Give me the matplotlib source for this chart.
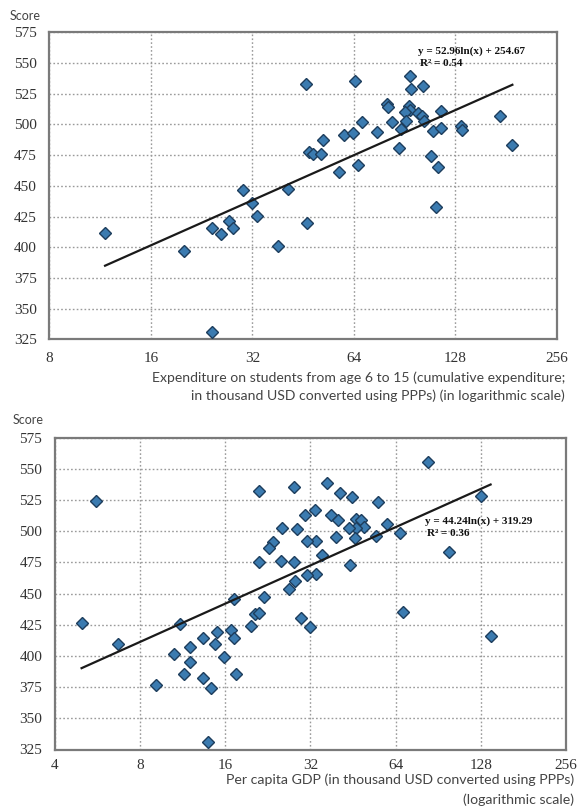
import matplotlib
matplotlib.use("Agg")
import matplotlib.pyplot as plt
import numpy as np
from matplotlib.ticker import FixedLocator, FixedFormatter, NullLocator

# ---------------- data ----------------
exp_x = [46.2, 64.5, 94, 94.5, 102.5, 80, 80.7, 93, 94, 91, 99, 102, 115.8, 103.5,
         67.7, 83, 91.6, 88.5, 110, 116, 133, 134, 174, 189, 87, 108.5, 114, 75,
         60, 63.6, 58, 65.7, 51.8, 47.2, 48.5, 51, 30.1, 40.7, 31.9, 33, 27.2, 28,
         24.3, 25.8, 38.2, 46.4, 112.4, 11.7, 20.1, 24.3]
exp_y = [533, 535.5, 539.6, 528.7, 531.4, 516.8, 514, 515, 512, 510, 509, 506.6, 510.6, 503,
         501.7, 501.7, 503, 496, 495, 497, 499, 495.7, 506.5, 483, 481, 474, 465, 493.8,
         491, 493, 461, 467, 487.6, 477.3, 476, 476, 446.5, 447.6, 435.7, 425.4, 421.6, 416,
         416, 411, 401, 419.4, 432.4, 411.3, 396.7, 331.2]

gdp_x = [5.61, 83, 127.8, 98.9, 66.2, 59.7, 55.3, 54.5, 44.8, 40.6, 36.5, 28.1, 21, 33.3,
         30.5, 37.8, 40.2, 46.2, 48.2, 49.3, 46.2, 43.7, 45.9, 44, 39.4, 33.5, 31, 28.7,
         25.4, 23.5, 22.9, 21, 25.1, 27.9, 35.2, 33.5, 31.2, 28.2, 26.9, 17.2, 22,
         4.97, 6.68, 11.07, 9.1, 10.5, 11.4, 12.0, 12.0, 13.4, 14.66, 14.9, 13.4, 14.2,
         13.9, 15.9, 16.7, 17.2, 17.4, 19.8, 20.4, 21, 29.7, 32, 67.8, 138.6]
gdp_y = [524.4, 555.5, 528.4, 483, 498.7, 505.7, 523.6, 496.3, 527.6, 530.8, 538.9, 535.1, 532.4, 516.9,
         512.9, 513.4, 509.4, 510.2, 508.9, 503, 502.2, 502.2, 494.2, 473.3, 495.5, 492.3, 492.3, 501.4,
         502.2, 491.5, 486.7, 475, 476.2, 475.4, 480.8, 466, 464.7, 459.9, 454, 446, 447.3,
         426.3, 409.7, 425.5, 377.1, 401.8, 385.5, 407.1, 395.5, 414.5, 409.7, 419.2, 382.4, 374.5,
         331, 399.5, 420.5, 414.5, 385.5, 423.7, 433.4, 434.2, 430.8, 422.9, 435, 415.8]

exp_ticks = [8, 16, 32, 64, 128, 256]
gdp_ticks = [4, 8, 16, 32, 64, 128, 256]
score_ticks = [325, 350, 375, 400, 425, 450, 475, 500, 525, 550, 575]

exp_fit = (52.96, 254.67, 0.54)
gdp_fit = (44.24, 319.29, 0.36)

exp_label = ["Expenditure on students from age 6 to 15 (cumulative expenditure;",
             "in thousand USD converted using PPPs) (in logarithmic scale)"]
gdp_label = ["Per capita GDP (in thousand USD converted using PPPs)",
             "(logarithmic scale)"]
y_label = "Score"

# ---------------- figure ----------------
W, H = 579, 811
fig = plt.figure(figsize=(W / 100, H / 100), dpi=100)

SERIF = ["Liberation Serif", "DejaVu Serif"]
SANS = ["Lato", "DejaVu Sans"]
FACE = "#3b7bb0"
EDGE = "#1d3d5c"


def px_axes(l, t, r, b):
    return fig.add_axes([l / W, 1 - b / H, (r - l) / W, (b - t) / H])


def fig_text(x, y, s, **kw):
    fig.text(x / W, 1 - y / H, s, **kw)


def draw(ax, xs, ys, xticks, fit, eq_pos, xpad):
    ax.set_xscale("log", base=2)
    ax.set_xlim(xticks[0], xticks[-1])
    ax.set_ylim(score_ticks[0], score_ticks[-1])
    ax.xaxis.set_major_locator(FixedLocator(xticks))
    ax.xaxis.set_major_formatter(FixedFormatter([str(t) for t in xticks]))
    ax.xaxis.set_minor_locator(NullLocator())
    ax.yaxis.set_major_locator(FixedLocator(score_ticks))
    ax.yaxis.set_major_formatter(FixedFormatter([str(t) for t in score_ticks]))
    ax.tick_params(length=0, labelsize=11, colors="#333333")
    ax.tick_params(axis="x", pad=xpad)
    ax.tick_params(axis="y", pad=9)
    for lab in ax.get_xticklabels() + ax.get_yticklabels():
        lab.set_fontfamily(SERIF)
    ax.grid(True, which="major", linestyle=(0, (1.2, 1.6)), color="#9a9a9a", linewidth=1.0)
    ax.set_axisbelow(True)
    for sp in ax.spines.values():
        sp.set_color("#7a7a7a")
        sp.set_linewidth(1.6)
    ax.plot(xs, ys, linestyle="none", marker="D", markersize=6.0,
            markerfacecolor=FACE, markeredgecolor=EDGE, markeredgewidth=1.0, zorder=3)
    a, b, r2 = fit
    xl = np.array([min(xs), max(xs)])
    ax.plot(xl, a * np.log(xl) + b, color="#1a1a1a", linewidth=1.6, zorder=4)
    ex, ey = eq_pos
    fig_text(ex, ey, f"y = {a:.2f}ln(x) + {b:.2f}", fontsize=8, family=SERIF,
             color="#111111", ha="left", va="center", fontweight="bold")
    fig_text(ex + 2, ey + 13, f"R² = {r2:.2f}", fontsize=8, family=SERIF,
             color="#111111", ha="left", va="center", fontweight="bold")


ax1 = px_axes(49.4, 32.3, 556.8, 339.3)
draw(ax1, exp_x, exp_y, exp_ticks, exp_fit, (418, 51), 9)
fig_text(10, 16, y_label, fontsize=9, family=SANS, color="#444444", ha="left", va="center")
fig_text(565, 378, exp_label[0], fontsize=10.1, family=SANS, color="#444444", ha="right", va="center")
fig_text(565, 396, exp_label[1], fontsize=10.1, family=SANS, color="#444444", ha="right", va="center")

ax2 = px_axes(54.9, 437.7, 566.0, 749.5)
draw(ax2, gdp_x, gdp_y, gdp_ticks, gdp_fit, (425, 521), 7)
fig_text(13, 420, y_label, fontsize=9, family=SANS, color="#444444", ha="left", va="center")
fig_text(574, 780, gdp_label[0], fontsize=10.2, family=SANS, color="#444444", ha="right", va="center")
fig_text(574, 800, gdp_label[1], fontsize=10.2, family=SANS, color="#444444", ha="right", va="center")

fig.savefig("out.png", dpi=100)
